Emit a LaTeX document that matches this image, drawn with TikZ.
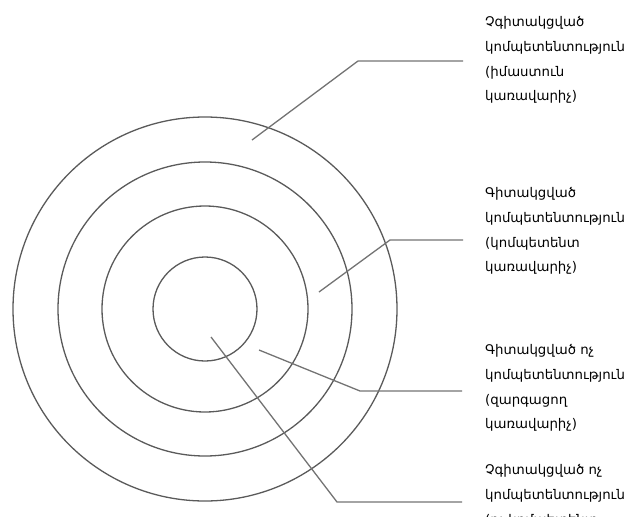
\documentclass[tikz,border=0pt]{standalone}
\usepackage{fontspec}
\newfontfamily\armfont[Script=Armenian]{DejaVu Sans}
\usepackage{tikz}
\usetikzlibrary{positioning}
\definecolor{ringgray}{RGB}{90,90,90}
\definecolor{leadgray}{RGB}{115,115,115}
\tikzset{
  ring/.style={circle,draw=ringgray,line width=1.3pt,inner sep=0pt},
  lead/.style={draw=leadgray,line width=1.3pt},
  lab/.style={anchor=west,align=left,inner sep=0pt,
    font=\armfont\fontsize{13.3}{24.8}\selectfont}
}

\begin{document}
\begin{tikzpicture}[x=1pt,y=-1pt]
    \useasboundingbox (0,0) rectangle (625,517);
    \coordinate (o) at (205,309);
    \foreach \r/\n in {52/a,103/b,147/c,192/d}{\node[ring,minimum size=2*\r pt] (ring\n) at (o) {};}
    % labels
    \node[lab] (lab1) at (485,60) {Չգիտակցված\\կոմպետենտություն\\(իմաստուն\\կառավարիչ)};
    \node[lab] (lab2) at (485,231) {Գիտակցված\\կոմպետենտություն\\(կոմպետենտ\\կառավարիչ)};
    \node[lab] (lab3) at (485,388) {Գիտակցված ոչ\\կոմպետենտություն\\(զարգացող\\կառավարիչ)};
    \node[lab] (lab4) at (485,496) {Չգիտակցված ոչ\\կոմպետենտություն\\(ոչ կոմպետենտ};
    % leaders
    \coordinate (s1) at (252,140); \coordinate (k1) at (358,61); \coordinate (e1) at (463,61);
    \coordinate (s2) at (319,292); \coordinate (k2) at (390,240); \coordinate (e2) at (463,240);
    \coordinate (s3) at (259,350); \coordinate (k3) at (360,391); \coordinate (e3) at (462,391);
    \coordinate (s4) at (211,337); \coordinate (k4) at (337,502); \coordinate (e4) at (462,502);
    \foreach \i in {1,...,4}{\draw[lead] (s\i)--(k\i)--(e\i);}
  \end{tikzpicture}
\end{document}
